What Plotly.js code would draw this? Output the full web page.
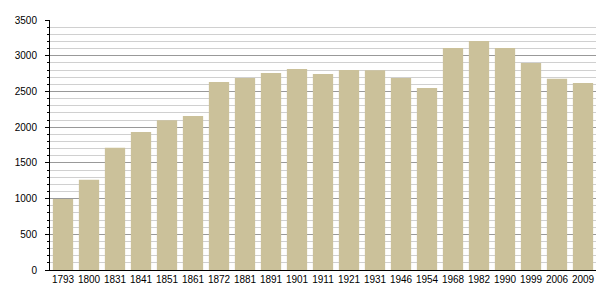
<!DOCTYPE html>
<html>
<head>
<meta charset="utf-8">
<script src="https://cdn.plot.ly/plotly-3.0.1.min.js"></script>
<style>html,body{margin:0;padding:0;background:#fff;}#chart{width:605px;height:300px;}</style>
</head>
<body>
<div id="chart"></div>
<script>
const years = ["1793","1800","1831","1841","1851","1861","1872","1881","1891","1901","1911","1921","1931","1946","1954","1968","1982","1990","1999","2006","2009"];
const population = [995,1262,1713,1932,2095,2156,2632,2688,2758,2814,2744,2800,2796,2688,2548,3108,3206,3108,2898,2679,2618];

const trace = {
  type: 'bar',
  x: years,
  y: population,
  marker: {color: '#cbc19a', line: {width: 0}},
  hoverinfo: 'x+y'
};

const layout = {
  width: 605,
  height: 300,
  margin: {l: 50, r: 9, t: 20, b: 30},
  paper_bgcolor: '#fff',
  plot_bgcolor: '#fff',
  bargap: 0.22,
  showlegend: false,
  font: {family: 'Liberation Sans, Arial, sans-serif', size: 10, color: '#000'},
  xaxis: {
    type: 'category',
    showline: true,
    linecolor: '#000',
    linewidth: 1,
    ticks: '',
    showgrid: false,
    tickfont: {size: 10},
    fixedrange: true
  },
  yaxis: {
    range: [0, 3500],
    dtick: 500,
    tick0: 0,
    showline: true,
    linecolor: '#000',
    linewidth: 1,
    ticks: 'outside',
    ticklen: 4,
    tickcolor: '#000',
    ticklabelstandoff: 6,
    showgrid: true,
    gridcolor: '#999',
    gridwidth: 1,
    zeroline: false,
    tickfont: {size: 10},
    minor: {dtick: 100, ticks: 'outside', ticklen: 2, tickcolor: '#000', showgrid: true, gridcolor: '#d0d0d0', gridwidth: 1},
    fixedrange: true
  }
};

Plotly.newPlot('chart', [trace], layout, {displayModeBar: false, staticPlot: true});
</script>
</body>
</html>
